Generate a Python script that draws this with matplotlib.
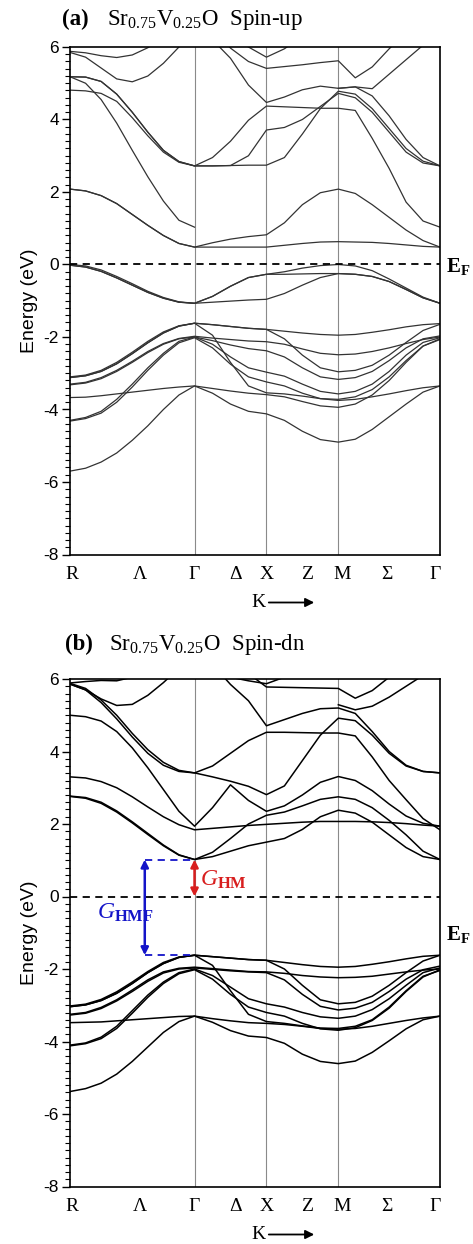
import numpy as np
import matplotlib
matplotlib.use("Agg")
import matplotlib.pyplot as plt
from matplotlib.ticker import MultipleLocator

plt.rcParams["font.family"] = "Liberation Sans"
plt.rcParams["axes.unicode_minus"] = False
plt.rcParams["mathtext.fontset"] = "custom"
plt.rcParams["mathtext.rm"] = "Liberation Serif"
plt.rcParams["mathtext.it"] = "Liberation Serif:italic"
plt.rcParams["mathtext.bf"] = "Liberation Serif:bold"

# path R - Gamma - X - M - Gamma, segment lengths (2pi/a) and samples per segment
seg_len = [np.sqrt(3) / 2, 0.5, 0.5, np.sqrt(2) / 2]
seg_pts = [9, 5, 5, 7]
sym_labels = ["R", "Λ", "Γ", "Δ", "X", "Z", "M", "Σ", "Γ"]
sym_label_px = [72, 140, 194, 236, 267, 307, 342, 387, 435]

N = None
# spin-up bands (eV), 23 samples along the path
up_bands = [
    [-3.1, -3.05, -2.92, -2.7, -2.42, -2.12, -1.86, -1.69, -1.62, -1.66, -1.71, -1.76, -1.79,
     -1.84, -1.89, -1.93, -1.95, -1.93, -1.87, -1.8, -1.72, -1.66, -1.63],
    [-3.12, -3.07, -2.95, -2.74, -2.46, -2.16, -1.89, -1.7, -1.62, -1.66, -1.71, -1.76, -1.79,
     -2.05, -2.5, -2.85, -2.96, -2.92, -2.78, -2.5, -2.15, -1.82, -1.65],
    [-3.12, -3.07, -2.95, -2.74, -2.46, -2.16, -1.89, -1.7, -1.62, -1.95, -2.7, -3.35, -3.54,
     -3.57, -3.63, -3.7, -3.72, -3.65, -3.45, -3.1, -2.65, -2.25, -2.05],
    [-3.3, -3.25, -3.12, -2.92, -2.67, -2.4, -2.18, -2.04, -1.98, -2.03, -2.07, -2.11, -2.13,
     -2.2, -2.33, -2.45, -2.49, -2.47, -2.4, -2.3, -2.18, -2.07, -2.0],
    [-3.32, -3.27, -3.15, -2.95, -2.7, -2.43, -2.2, -2.05, -2.0, -2.1, -2.22, -2.32, -2.38,
     -2.55, -2.85, -3.1, -3.17, -3.12, -2.95, -2.65, -2.3, -2.05, -1.97],
    [-4.3, -4.22, -4.05, -3.72, -3.3, -2.85, -2.45, -2.12, -2.0, -2.2, -2.55, -2.85, -2.97,
     -3.08, -3.3, -3.5, -3.57, -3.5, -3.3, -2.95, -2.5, -2.15, -2.02],
    [-4.32, -4.25, -4.1, -3.8, -3.38, -2.92, -2.5, -2.16, -2.02, -2.3, -2.75, -3.1, -3.24,
     -3.35, -3.55, -3.7, -3.75, -3.72, -3.65, -3.57, -3.48, -3.4, -3.35],
    [-3.67, -3.66, -3.62, -3.57, -3.52, -3.47, -3.42, -3.38, -3.35, -3.42, -3.49, -3.55, -3.59,
     -3.65, -3.78, -3.9, -3.94, -3.85, -3.6, -3.2, -2.7, -2.25, -2.07],
    [-5.7, -5.62, -5.45, -5.2, -4.85, -4.45, -4.0, -3.6, -3.35, -3.55, -3.85, -4.05, -4.12,
     -4.3, -4.6, -4.83, -4.9, -4.82, -4.55, -4.2, -3.85, -3.52, -3.35],
    [0, -0.04, -0.15, -0.33, -0.53, -0.74, -0.91, -1.03, -1.07, -0.88, -0.6, -0.36, -0.27,
     -0.2, -0.1, -0.03, 0, -0.04, -0.17, -0.4, -0.65, -0.9, -1.07],
    [-0.02, -0.07, -0.19, -0.37, -0.57, -0.77, -0.93, -1.04, -1.07, -0.88, -0.6, -0.36, -0.27,
     -0.27, -0.26, -0.25, -0.25, -0.27, -0.33, -0.47, -0.69, -0.92, -1.07],
    [-0.02, -0.07, -0.19, -0.37, -0.57, -0.77, -0.93, -1.04, -1.07, -1.04, -1.01, -0.98, -0.96,
     -0.8, -0.57, -0.36, -0.25, -0.27, -0.33, -0.47, -0.69, -0.92, -1.07],
    [2.08, 2.03, 1.9, 1.68, 1.38, 1.08, 0.8, 0.58, 0.48, 0.48, 0.48, 0.48, 0.48,
     0.53, 0.58, 0.62, 0.63, 0.62, 0.61, 0.58, 0.54, 0.5, 0.48],
    [2.08, 2.03, 1.9, 1.68, 1.38, 1.08, 0.8, 0.58, 0.48, 0.6, 0.7, 0.77, 0.82,
     1.15, 1.65, 1.98, 2.08, 1.96, 1.65, 1.3, 0.95, 0.66, 0.48],
    [4.81, 4.79, 4.72, 4.5, 4.05, 3.55, 3.1, 2.82, 2.72, 2.72, 2.73, 2.74, 2.74,
     2.95, 3.6, 4.3, 4.78, 4.7, 4.3, 3.75, 3.2, 2.85, 2.72],
    [5.18, 5.17, 5.05, 4.7, 4.2, 3.65, 3.15, 2.84, 2.72, 2.72, 2.73, 3.0, 3.71,
     3.78, 4.0, 4.36, 4.72, 4.6, 4.2, 3.65, 3.1, 2.8, 2.72],
    [5.18, 5.17, 5.05, 4.7, 4.2, 3.65, 3.15, 2.84, 2.72, 2.95, 3.4, 3.98, 4.37,
     4.35, 4.33, 4.31, 4.31, 4.25, 3.48, 2.65, 1.72, 1.2, 1.03],
    [5.18, 5.0, 4.55, 3.9, 3.15, 2.42, 1.75, 1.22, 1.03, N, N, N, N,
     N, N, N, N, N, N, N, N, N, N],
    [5.85, 5.72, 5.42, 5.12, 5.04, 5.2, 5.55, 6.0, 6.4, 6.2, 5.69, 4.95, 4.47,
     4.62, 4.82, 4.92, 4.86, 4.9, 4.65, 4.1, 3.45, 2.95, 2.72],
    [5.88, 5.84, 5.76, 5.71, 5.78, 5.98, 6.3, 6.6, 6.9, 6.5, 5.97, 5.6, 5.41,
     5.46, 5.51, 5.57, 5.62, 5.15, 5.45, 5.95, 6.4, 6.8, 7.0],
    [N, N, N, N, N, N, N, N, N, 6.7, 6.3, 6.0, 5.72,
     5.95, 6.3, N, 4.86, 4.9, 4.85, 5.25, 5.65, 6.05, 6.4],
]

# spin-down bands (eV)
dn_bands = [
    [-3.02, -2.97, -2.84, -2.63, -2.36, -2.07, -1.82, -1.67, -1.62, -1.66, -1.7, -1.74, -1.76,
     -1.82, -1.88, -1.93, -1.95, -1.93, -1.87, -1.8, -1.72, -1.65, -1.62],
    [-3.04, -2.99, -2.87, -2.67, -2.4, -2.1, -1.85, -1.68, -1.62, -1.66, -1.7, -1.74, -1.76,
     -2.0, -2.45, -2.85, -2.96, -2.92, -2.75, -2.45, -2.1, -1.78, -1.62],
    [-3.04, -2.99, -2.87, -2.67, -2.4, -2.1, -1.85, -1.68, -1.62, -1.9, -2.6, -3.25, -3.45,
     -3.5, -3.57, -3.63, -3.64, -3.58, -3.4, -3.05, -2.6, -2.2, -2.04],
    [-3.25, -3.2, -3.06, -2.85, -2.58, -2.3, -2.08, -1.98, -1.95, -1.99, -2.03, -2.07, -2.08,
     -2.12, -2.18, -2.22, -2.24, -2.23, -2.2, -2.14, -2.08, -2.03, -2.0],
    [-3.27, -3.22, -3.09, -2.88, -2.62, -2.34, -2.11, -2.0, -1.97, -2.01, -2.05, -2.08, -2.1,
     -2.3, -2.7, -3.03, -3.13, -3.08, -2.92, -2.62, -2.28, -2.02, -1.92],
    [-4.1, -4.04, -3.88, -3.58, -3.15, -2.72, -2.36, -2.1, -2.0, -2.18, -2.5, -2.82, -2.96,
     -3.05, -3.2, -3.32, -3.36, -3.3, -3.12, -2.82, -2.45, -2.1, -1.97],
    [-4.12, -4.06, -3.92, -3.64, -3.22, -2.78, -2.4, -2.13, -2.02, -2.28, -2.7, -3.05, -3.2,
     -3.3, -3.5, -3.65, -3.69, -3.62, -3.42, -3.08, -2.62, -2.22, -2.02],
    [-3.48, -3.47, -3.46, -3.43, -3.4, -3.37, -3.34, -3.31, -3.3, -3.37, -3.43, -3.48, -3.5,
     -3.53, -3.58, -3.64, -3.66, -3.64, -3.58, -3.5, -3.42, -3.35, -3.3],
    [-5.38, -5.3, -5.15, -4.9, -4.55, -4.15, -3.75, -3.45, -3.3, -3.47, -3.7, -3.85, -3.89,
     -4.05, -4.35, -4.55, -4.61, -4.54, -4.3, -3.98, -3.65, -3.4, -3.3],
    [2.76, 2.71, 2.57, 2.33, 2.03, 1.71, 1.4, 1.14, 1.02, 1.1, 1.25, 1.4, 1.5,
     1.6, 1.85, 2.2, 2.38, 2.3, 2.05, 1.7, 1.35, 1.1, 1.02],
    [2.77, 2.73, 2.6, 2.36, 2.06, 1.74, 1.42, 1.15, 1.02, 1.22, 1.6, 2.0, 2.24,
     2.33, 2.5, 2.68, 2.75, 2.68, 2.45, 2.1, 1.7, 1.25, 1.02],
    [3.3, 3.27, 3.17, 3.0, 2.75, 2.47, 2.2, 1.98, 1.84, 1.88, 1.92, 1.96, 1.99,
     2.02, 2.05, 2.07, 2.07, 2.07, 2.06, 2.04, 2.01, 1.97, 1.94],
    [5.0, 4.96, 4.84, 4.55, 4.1, 3.55, 2.95, 2.35, 1.94, 2.45, 3.08, 2.65, 2.35,
     2.5, 2.8, 3.15, 3.31, 3.2, 2.92, 2.55, 2.22, 2.02, 1.94],
    [5.86, 5.7, 5.35, 4.9, 4.4, 3.95, 3.62, 3.45, 3.41, 3.6, 3.95, 4.3, 4.53,
     4.53, 4.52, 4.51, 4.51, 4.43, 3.85, 3.2, 2.67, 2.15, 1.84],
    [5.88, 5.74, 5.42, 5.0, 4.5, 4.05, 3.7, 3.48, 3.41, 3.3, 3.18, 3.04, 2.81,
     3.05, 3.75, 4.45, 4.92, 4.85, 4.45, 3.95, 3.6, 3.45, 3.41],
    [5.86, 5.7, 5.45, 5.27, 5.3, 5.55, 5.9, 6.3, 6.7, 6.4, 5.85, 5.4, 4.71,
     4.88, 5.05, 5.18, 5.2, 5.05, 4.55, 4.0, 3.62, 3.45, 3.41],
    [5.89, 5.93, 5.96, 5.95, 6.05, 6.3, 6.6, 6.9, 7.2, 6.9, 6.6, 6.15, 5.78,
     5.77, 5.76, 5.75, 5.74, 5.47, 5.68, 6.05, 6.5, 6.9, 7.3],
    [N, N, N, N, N, N, N, N, N, 6.5, 6.05, 5.95, 5.87,
     6.05, 6.4, N, 5.29, 5.15, 5.25, 5.5, 5.8, 6.1, 6.4],
]

W, H = 473, 1244


def kpath():
    ks = [0.0]
    start = 0.0
    for L, n in zip(seg_len, seg_pts):
        ks.extend(start + L * np.linspace(0, 1, n)[1:])
        start += L
    return np.array(ks)


def fx(px):
    return px / W


def fy(py):
    return 1 - py / H


def draw_panel(fig, top, bands, color, lw):
    bottom = top + 507.5
    ax = fig.add_axes([fx(70), fy(bottom), fx(370), 507.5 / H])
    k = kpath()
    sym_x = np.concatenate([[0], np.cumsum(seg_len)])
    for x in sym_x[1:-1]:
        ax.axvline(x, color="#8a8a8a", lw=0.8, zorder=1)
    for b in bands:
        ax.plot(k, np.array(b, dtype=float), color=color, lw=lw, zorder=2)
    ax.axhline(0, color="k", lw=1.3, ls=(0, (4, 3)), zorder=3)
    ax.set_xlim(0, sym_x[-1])
    ax.set_ylim(-8, 6)
    ax.set_xticks([])
    ax.set_yticks(np.arange(-8, 7, 2))
    ax.yaxis.set_minor_locator(MultipleLocator(0.2))
    ax.tick_params(axis="y", which="major", length=6, width=1, labelsize=12.5, pad=2)
    ax.tick_params(axis="y", which="minor", length=3.5, width=0.8)
    for s in ax.spines.values():
        s.set_linewidth(1.2)
    ax.set_ylabel("Energy (eV)", fontsize=14, labelpad=4)
    for lab, px in zip(sym_labels, sym_label_px):
        fig.text(fx(px), fy(bottom + 20), lab, family="Liberation Serif",
                 fontsize=14, ha="center", va="center")
    fig.text(fx(251), fy(bottom + 48), "K", family="Liberation Serif",
             fontsize=14, ha="left", va="center")
    ax.annotate("", xy=(fx(317), fy(bottom + 48)), xytext=(fx(266), fy(bottom + 48)),
                xycoords="figure fraction", textcoords="figure fraction",
                arrowprops=dict(arrowstyle="-|>", color="k", lw=1.3, mutation_scale=13))
    return ax


fig = plt.figure(figsize=(W / 100, H / 100), dpi=100)

ax1 = draw_panel(fig, 47, up_bands, "#333333", 0.9)
fig.text(fx(62), fy(25), "(a)", family="Liberation Serif", weight="bold", fontsize=16.5)
fig.text(fx(107), fy(25), r"Sr$_{0.75}$V$_{0.25}$O  Spin-up", family="Liberation Serif",
         fontsize=16.5)
fig.text(fx(446), fy(272), r"$\mathbf{E_F}$", fontsize=15)

ax2 = draw_panel(fig, 679, dn_bands, "black", 1.1)
fig.text(fx(65), fy(650), "(b)", family="Liberation Serif", weight="bold", fontsize=16.5)
fig.text(fx(109), fy(650), r"Sr$_{0.75}$V$_{0.25}$O  Spin-dn", family="Liberation Serif",
         fontsize=16.5)
fig.text(fx(446), fy(940), r"$\mathbf{E_F}$", fontsize=15)

# half-metallic gaps in the spin-down channel
cbm, vbm = 1.02, -1.62
g_x = np.sqrt(3) / 2
hmf_x = 0.52
red, blue = "#d81e1e", "#1414c8"
ax2.plot([hmf_x, g_x], [cbm, cbm], color=blue, lw=1.3, ls=(0, (4, 3)), zorder=4)
ax2.plot([hmf_x, g_x], [vbm, vbm], color=blue, lw=1.3, ls=(0, (4, 3)), zorder=4)
ax2.annotate("", xy=(hmf_x, cbm), xytext=(hmf_x, vbm),
             arrowprops=dict(arrowstyle="<|-|>", color=blue, lw=1.8, mutation_scale=11,
                             shrinkA=0, shrinkB=0), zorder=5)
ax2.annotate("", xy=(g_x, cbm), xytext=(g_x, 0),
             arrowprops=dict(arrowstyle="<|-|>", color=red, lw=1.8, mutation_scale=11,
                             shrinkA=0, shrinkB=0), zorder=5)
ax2.text(g_x + 0.035, 0.45, r"$G_{\mathbf{HM}}$", color=red, fontsize=17, va="center")
ax2.text(0.19, -0.45, r"$G_{\mathbf{HMF}}$", color=blue, fontsize=17, va="center")

fig.savefig("out.png", dpi=100)
